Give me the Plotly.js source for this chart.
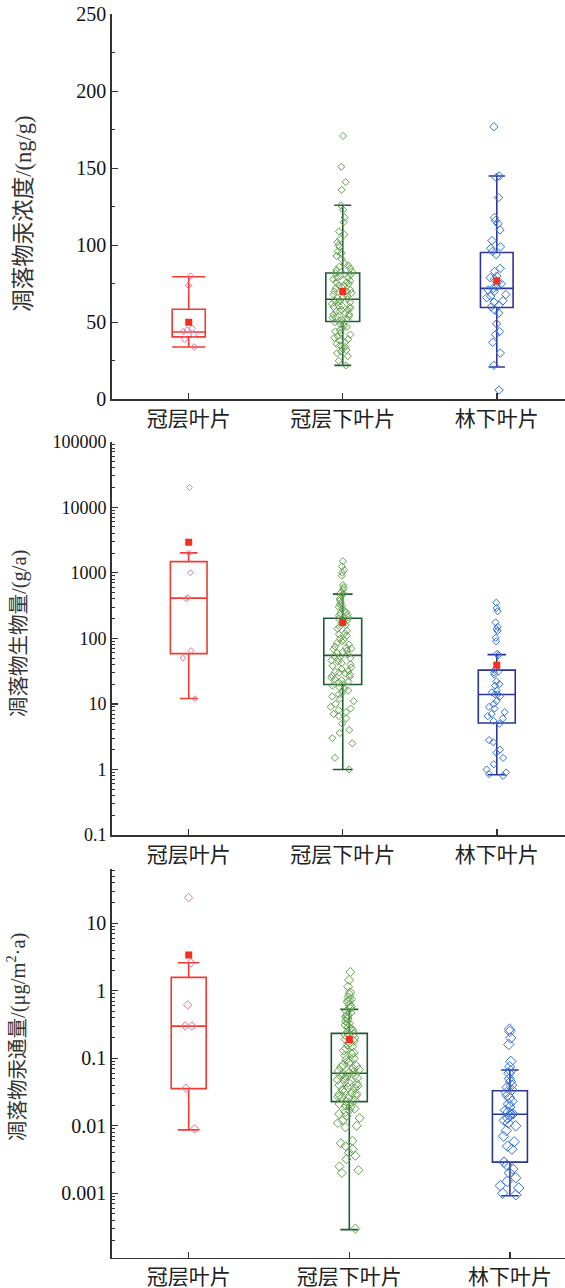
<!DOCTYPE html>
<html>
<head>
<meta charset="utf-8">
<script src="https://cdn.plot.ly/plotly-3.0.1.min.js"></script>
<style>
  html, body { margin: 0; padding: 0; background: #ffffff; }
  #chart { width: 565px; height: 1288px; }
</style>
</head>
<body>
<div id="chart"></div>
<script>
// ---------------- categories / labels ----------------
const categories = ['冠层叶片', '冠层下叶片', '林下叶片'];
const yTitles = ['凋落物汞浓度/(ng/g)', '凋落物生物量/(g/a)', '凋落物汞通量/(μg/m<sup>2</sup>·a)'];

// ---------------- panel 1: litter Hg concentration (ng/g) ----------------
const concCanopy = [80, 74, 46, 45, 44, 42, 39, 34];
const concSub = [171, 151, 141, 136, 126, 123, 118, 115, 109, 107, 104, 102, 100, 99, 96, 95, 93, 91, 88, 87, 86, 85, 84, 83,
  82, 81, 81, 79, 78, 77, 76, 76, 74, 73, 72, 71, 70, 70, 68, 67, 66, 66, 65, 69, 74, 75, 79, 80,
  64, 63, 63, 61, 60, 59, 58, 57, 56, 55, 55, 53, 52, 51, 64, 62, 60, 58, 57, 54, 53, 52, 51, 61,
  50, 49, 48, 47, 46, 45, 44, 43, 42, 41, 40, 39, 38, 37, 36, 35, 34, 33, 32, 31, 30, 28, 25, 22];
const concUnder = [177, 145, 144, 131, 118, 116, 114, 110, 103, 99, 98, 96, 94, 85, 83, 80, 79, 78, 76, 75,
  73, 72, 71, 70, 68, 67, 66, 64, 63, 61, 60, 58, 56, 49, 44, 42, 37, 30, 22, 6];
// box statistics [canopy, sub-canopy, understory]
const concLower = [34, 22, 21];
const concQ1 = [40.5, 50.5, 59.6];
const concMedian = [43.7, 65, 72];
const concQ3 = [58.5, 82, 95.3];
const concUpper = [79.6, 126, 145];
const concMean = [50, 70, 77];

// ---------------- panel 2: litter biomass (g/a) ----------------
const bioCanopy = [20000, 2000, 1000, 420, 400, 65, 50, 12];
const bioSub = [1500, 1250, 1100, 1000, 900, 650, 600, 560, 500, 480, 450, 400, 380, 350, 330, 310, 300, 280, 260, 250, 240, 230, 220, 210,
  200, 190, 180, 170, 160, 150, 140, 130, 120, 115, 110, 100, 95, 90, 85, 80, 75, 72, 70, 68, 65, 62, 60, 57,
  54, 52, 50, 48, 46, 44, 42, 40, 38, 36, 34, 32, 31, 30, 29, 28, 27, 26, 25, 24, 23, 22, 21, 20,
  19, 18, 17, 16, 15, 14, 13, 12, 11, 10, 9, 8.5, 8, 7.5, 7, 6.5, 6, 5, 4, 3.6, 3, 2.5, 1.5, 1.0];
const bioUnder = [350, 290, 260, 175, 150, 138, 130, 102, 90, 58, 55, 33, 31, 30, 28, 22, 20, 19, 16, 15, 14, 14,
  13, 11, 10, 9, 8.5, 7.5, 7, 6.5, 6, 5.5, 5, 2.8, 2.6, 2.0, 1.8, 1.5, 1.2, 1.0, 0.9, 0.85, 0.8];
const bioLower = [12.1, 1.0, 0.83];
const bioQ1 = [58.5, 19.8, 5.1];
const bioMedian = [411, 55, 13.9];
const bioQ3 = [1480, 203, 32.8];
const bioUpper = [2010, 473, 56.5];
const bioMean = [2930, 175, 39];

// ---------------- panel 3: litter Hg flux (ug/m2.a) ----------------
const fluxCanopy = [24, 2.6, 0.62, 0.3, 0.3, 0.036, 0.009];
const fluxSub = [1.9, 1.45, 1.15, 0.95, 0.88, 0.8, 0.75, 0.72, 0.68, 0.62, 0.58, 0.55, 0.5, 0.47, 0.44, 0.42, 0.4, 0.38, 0.35, 0.33, 0.31, 0.29, 0.27, 0.26, 0.24,
  0.23, 0.22, 0.2, 0.19, 0.18, 0.17, 0.16, 0.15, 0.14, 0.13, 0.12, 0.115, 0.11, 0.1, 0.095, 0.09, 0.085, 0.08, 0.077, 0.074, 0.07, 0.068, 0.065, 0.063, 0.061,
  0.059, 0.057, 0.055, 0.053, 0.051, 0.05, 0.048, 0.046, 0.044, 0.042, 0.04, 0.039, 0.037, 0.036, 0.034, 0.033, 0.031, 0.03, 0.029, 0.028, 0.027, 0.026, 0.025, 0.024, 0.023,
  0.022, 0.021, 0.02, 0.019, 0.018, 0.017, 0.016, 0.015, 0.014, 0.013, 0.012, 0.011, 0.01, 0.0095, 0.006, 0.0055, 0.005, 0.0045, 0.004, 0.0036, 0.0032, 0.0025, 0.0022, 0.002, 0.0003];
const fluxUnder = [0.27, 0.25, 0.2, 0.16, 0.09, 0.075, 0.065, 0.06, 0.05, 0.045, 0.04, 0.037, 0.034, 0.031, 0.028, 0.026, 0.023, 0.021, 0.019, 0.017, 0.016, 0.015,
  0.015, 0.014, 0.013, 0.012, 0.011, 0.01, 0.0085, 0.007, 0.0058, 0.005, 0.0045, 0.0029, 0.0026, 0.0023, 0.002, 0.0017, 0.0015, 0.0013, 0.0012, 0.001, 0.00095];
const fluxLower = [0.0087, 0.00029, 0.00092];
const fluxQ1 = [0.0355, 0.0228, 0.0029];
const fluxMedian = [0.3, 0.06, 0.0148];
const fluxQ3 = [1.58, 0.234, 0.033];
const fluxUpper = [2.6, 0.53, 0.067];
const fluxMean = [3.39, 0.19, null];

// ---------------- styles ----------------
const boxColors = ['#f23a30', '#1d5b36', '#2c3496'];
const pointColors = ['#e8709a', '#62a04c', '#2f6fdf'];
const meanColor = '#f4301c';

const panels = [
  { pts: [concCanopy, concSub, concUnder], lo: concLower, q1: concQ1, med: concMedian, q3: concQ3, up: concUpper, mean: concMean,
    xa: 'x', ya: 'y', width: [0.215, 0.22, 0.212], whisk: [1.0, 0.5, 0.5], msize: [5, 5.5, 6.5] },
  { pts: [bioCanopy, bioSub, bioUnder], lo: bioLower, q1: bioQ1, med: bioMedian, q3: bioQ3, up: bioUpper, mean: bioMean,
    xa: 'x2', ya: 'y2', width: [0.238, 0.246, 0.24], whisk: [0.48, 0.52, 0.5], msize: [4.5, 5.5, 5.5] },
  { pts: [fluxCanopy, fluxSub, fluxUnder], lo: fluxLower, q1: fluxQ1, med: fluxMedian, q3: fluxQ3, up: fluxUpper, mean: fluxMean,
    xa: 'x3', ya: 'y3', width: [0.218, 0.224, 0.218], whisk: [0.62, 0.5, 0.5], msize: [6.5, 7, 8] }
];

const traces = [];
panels.forEach(p => {
  for (let i = 0; i < 3; i++) {
    // box drawn from its statistics
    traces.push({
      type: 'box', x: [categories[i]],
      lowerfence: [p.lo[i]], q1: [p.q1[i]], median: [p.med[i]], q3: [p.q3[i]], upperfence: [p.up[i]],
      xaxis: p.xa, yaxis: p.ya, width: p.width[i], whiskerwidth: p.whisk[i],
      line: { color: boxColors[i], width: 1.6 }, fillcolor: 'rgba(0,0,0,0)',
      boxpoints: false, showlegend: false, hoverinfo: 'skip'
    });
    // samples, jittered by the library
    traces.push({
      type: 'box', x: p.pts[i].map(() => categories[i]), y: p.pts[i],
      xaxis: p.xa, yaxis: p.ya, width: p.width[i],
      boxpoints: 'all', jitter: 0.65, pointpos: 0,
      line: { color: 'rgba(0,0,0,0)', width: 0 }, fillcolor: 'rgba(0,0,0,0)',
      marker: { symbol: 'diamond-open', size: p.msize[i], color: pointColors[i], line: { color: pointColors[i], width: 1 } },
      showlegend: false, hoverinfo: 'y'
    });
  }
  traces.push({
    type: 'scatter', mode: 'markers', x: categories, y: p.mean,
    xaxis: p.xa, yaxis: p.ya,
    marker: { symbol: 'square', size: 7, color: meanColor },
    showlegend: false, hoverinfo: 'y'
  });
});

const numFont = { family: 'Liberation Serif, Times New Roman, serif', size: 20, color: '#111' };
const catFont = { family: 'Liberation Serif, Noto Sans CJK SC, serif', size: 21, color: '#222' };
const titleFontFamily = 'Liberation Serif, Noto Sans CJK SC, serif';

function xAxis(domain, range, anchor) {
  return {
    domain: domain, range: range, anchor: anchor, type: 'category', categoryarray: categories,
    showline: true, linecolor: '#333', linewidth: 1.5, mirror: false,
    ticks: 'inside', ticklen: 6, tickwidth: 1.5, tickcolor: '#333',
    tickfont: catFont, showgrid: false, zeroline: false, automargin: false, fixedrange: true
  };
}
function yAxis(domain, extra) {
  return Object.assign({
    domain: domain, showline: true, linecolor: '#333', linewidth: 1.5,
    ticks: 'inside', ticklen: 6, tickwidth: 1.3, tickcolor: '#333',
    tickfont: numFont, showgrid: false, zeroline: false, automargin: false, fixedrange: true
  }, extra);
}

const layout = {
  width: 565, height: 1288,
  margin: { l: 0, r: 0, t: 0, b: 0 },
  separators: '.',
  paper_bgcolor: '#ffffff', plot_bgcolor: '#ffffff',
  boxmode: 'overlay', showlegend: false,
  xaxis: xAxis([0.1977, 1], [-0.5, 2.443], 'y'),
  xaxis2: xAxis([0.1977, 1], [-0.5, 2.443], 'y2'),
  xaxis3: xAxis([0.1947, 1], [-0.49, 2.343], 'y3'),
  yaxis: yAxis([0.6900, 0.9889], { range: [0, 250], dtick: 50, tick0: 0,
    minor: { dtick: 25, ticks: 'inside', ticklen: 3.5, tickcolor: '#333', tickwidth: 1.2, showgrid: false } }),
  yaxis2: yAxis([0.3517, 0.6571], { type: 'log', range: [-1, 5], dtick: 1, exponentformat: 'none',
    tickfont: Object.assign({}, numFont, { size: 18 }),
    minor: { dtick: 'D1', ticks: 'inside', ticklen: 3.5, tickcolor: '#333', tickwidth: 1, showgrid: false } }),
  yaxis3: yAxis([0.02352, 0.3251], { type: 'log', range: [-3.954, 1.8], dtick: 1, exponentformat: 'none',
    minor: { dtick: 'D1', ticks: 'inside', ticklen: 3.5, tickcolor: '#333', tickwidth: 1, showgrid: false } }),
  annotations: [
    { text: yTitles[0], xref: 'paper', yref: 'paper', x: 0.0425, y: 0.8340, textangle: -90, showarrow: false,
      xanchor: 'center', yanchor: 'middle', font: { family: titleFontFamily, size: 22.5, color: '#333' } },
    { text: yTitles[1], xref: 'paper', yref: 'paper', x: 0.0336, y: 0.5085, textangle: -90, showarrow: false,
      xanchor: 'center', yanchor: 'middle', font: { family: titleFontFamily, size: 20.5, color: '#333' } },
    { text: yTitles[2], xref: 'paper', yref: 'paper', x: 0.0301, y: 0.1949, textangle: -90, showarrow: false,
      xanchor: 'center', yanchor: 'middle', font: { family: titleFontFamily, size: 20.5, color: '#333' } }
  ]
};

Plotly.newPlot('chart', traces, layout, { staticPlot: true, displayModeBar: false });
</script>
</body>
</html>
